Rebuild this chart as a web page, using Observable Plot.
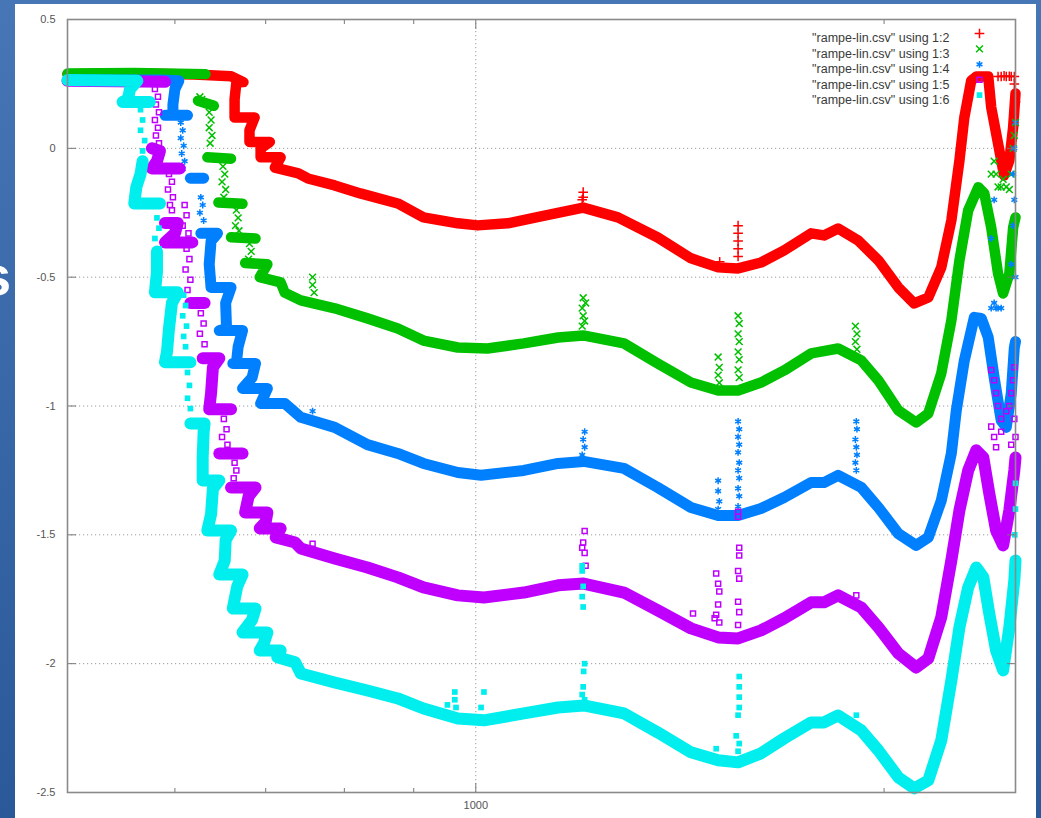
<!DOCTYPE html>
<html><head><meta charset="utf-8">
<script src="https://cdn.jsdelivr.net/npm/d3@7"></script>
<script src="https://cdn.jsdelivr.net/npm/@observablehq/plot@0.6"></script>
<style>
html,body{margin:0;padding:0;width:1041px;height:818px;overflow:hidden;}
body{background:linear-gradient(#4676b6,#2a5898);position:relative;font-family:"Liberation Sans",Arial,sans-serif;}
#slidetext{position:absolute;left:-20px;top:243px;color:#fff;font:bold 56px "Liberation Sans",Arial,sans-serif;}
#panel{position:absolute;left:15px;top:4px;width:1021px;height:814px;background:#fff;}
#chart{position:absolute;left:0;top:0;}
</style></head><body>
<div id="slidetext">s</div>
<div id="panel"></div>
<div id="chart"></div>
<script>
// ---- tick values ----
const yTicks = [0.5, 0, -0.5, -1, -1.5, -2, -2.5];
const xMajorTicks = [1000];
const xMinorTicks = [600, 700, 800, 900, 2000];

// ---- legend labels ----
const seriesNames = [
  '"rampe-lin.csv" using 1:2',
  '"rampe-lin.csv" using 1:3',
  '"rampe-lin.csv" using 1:4',
  '"rampe-lin.csv" using 1:5',
  '"rampe-lin.csv" using 1:6'
];

// ---- dense bands (segments of [wavelength, value]) ----
const redBand = [[
  [500,0.288],[560,0.29],[620,0.287],[660,0.28],[674,0.257],[666,0.255],[664,0.19],[664,0.12],[687,0.12],
  [681,0.07],[681,0.025],[705,0.025],[694,0.0],[694,-0.035],[718,-0.035],[711,-0.075],[740,-0.097],[752,-0.117],
  [787,-0.144],[822,-0.175],[876,-0.214],[915,-0.268],[970,-0.291],[1003,-0.299],[1056,-0.291],[1117,-0.264],
  [1200,-0.23],[1273,-0.268],[1362,-0.346],[1441,-0.427],[1509,-0.462],[1561,-0.466],[1623,-0.443],[1688,-0.396],
  [1767,-0.33],[1806,-0.338],[1850,-0.311],[1914,-0.358],[1981,-0.435],[2049,-0.54],[2105,-0.602],[2156,-0.579],
  [2204,-0.462],[2242,-0.28],[2273,-0.047],[2292,0.12],[2319,0.263],[2340,0.279],[2387,0.279],[2399,0.159],
  [2427,0.019],[2452,-0.105],[2474,-0.047],[2490,0.081],[2500,0.213]
]];
const greenBand = [
  [[500,0.29],[560,0.292],[632,0.288]],
  [[624,0.185],[641,0.165]],
  [[634,-0.035],[660,-0.04]],
  [[646,-0.21],[673,-0.215]],
  [[660,-0.345],[688,-0.35]],
  [[676,-0.445],[702,-0.45],[693,-0.5],[718,-0.52],[723,-0.56],[743,-0.59],[787,-0.621],[832,-0.66],[876,-0.699],
   [915,-0.746],[970,-0.773],[1020,-0.777],[1085,-0.757],[1150,-0.734],[1200,-0.726],[1286,-0.757],[1362,-0.835],
   [1441,-0.909],[1509,-0.94],[1561,-0.94],[1623,-0.909],[1688,-0.862],[1767,-0.796],[1850,-0.777],[1924,-0.823],
   [1981,-0.901],[2049,-1.017],[2112,-1.064],[2156,-1.029],[2204,-0.873],[2242,-0.668],[2273,-0.435],[2307,-0.241],
   [2347,-0.151],[2371,-0.175],[2399,-0.307],[2427,-0.486],[2448,-0.563],[2474,-0.486],[2490,-0.307],[2500,-0.268]]
];
const blueBand = [
  [[500,0.265],[585,0.265],[604,0.262],[600,0.23],[598,0.17],[598,0.128],[590,0.128],[613,0.128]],
  [[616,-0.116],[630,-0.116]],
  [[627,-0.33],[645,-0.33],[638,-0.36],[636,-0.45],[638,-0.54],[660,-0.54],[654,-0.6],[655,-0.7],[647,-0.707],
   [673,-0.707],[668,-0.77],[666,-0.835],[662,-0.835],[688,-0.835],[684,-0.89],[673,-0.932],[702,-0.932],[694,-0.99],
   [723,-0.99],[743,-1.044],[787,-1.083],[832,-1.15],[876,-1.184],[915,-1.223],[970,-1.258],[1009,-1.269],
   [1085,-1.25],[1150,-1.223],[1201,-1.215],[1286,-1.242],[1362,-1.316],[1441,-1.394],[1509,-1.425],[1561,-1.425],
   [1623,-1.398],[1688,-1.355],[1767,-1.297],[1806,-1.297],[1850,-1.269],[1924,-1.316],[1981,-1.394],[2049,-1.495],
   [2112,-1.541],[2156,-1.51],[2204,-1.367],[2242,-1.184],[2261,-1.017],[2292,-0.823],[2331,-0.656],[2359,-0.66],
   [2387,-0.734],[2411,-0.889],[2440,-1.056],[2461,-1.083],[2482,-0.951],[2495,-0.773],[2500,-0.75]]
];
const purpleBand = [
  [[500,0.262],[590,0.258]],
  [[577,0.0],[585,-0.01],[582,-0.05],[577,-0.078],[605,-0.078]],
  [[590,-0.29],[603,-0.29],[600,-0.33],[590,-0.365],[618,-0.365]],
  [[616,-0.6],[631,-0.6]],
  [[629,-0.815],[647,-0.815],[640,-0.85],[638,-0.95],[636,-1.013],[660,-1.013]],
  [[647,-1.184],[673,-1.184]],
  [[660,-1.316],[688,-1.316],[680,-1.35],[676,-1.413],[702,-1.413],[700,-1.45],[693,-1.475],[718,-1.475],[712,-1.51],
   [736,-1.53],[743,-1.553],[787,-1.592],[832,-1.627],[876,-1.665],[915,-1.704],[970,-1.735],[1014,-1.743],
   [1085,-1.724],[1150,-1.696],[1201,-1.689],[1286,-1.724],[1362,-1.793],[1441,-1.863],[1509,-1.898],[1561,-1.902],
   [1623,-1.871],[1688,-1.824],[1767,-1.762],[1806,-1.762],[1850,-1.735],[1924,-1.782],[1981,-1.859],[2049,-1.96],
   [2112,-2.015],[2156,-1.98],[2204,-1.82],[2242,-1.599],[2273,-1.405],[2307,-1.25],[2339,-1.172],[2367,-1.2],
   [2391,-1.339],[2419,-1.483],[2448,-1.541],[2474,-1.405],[2495,-1.25],[2500,-1.2]]
];
const cyanBand = [
  [[500,0.265],[563,0.262],[556,0.23],[554,0.19],[549,0.18],[575,0.18]],
  [[568,-0.05],[566,-0.1],[562,-0.15],[560,-0.214],[585,-0.214]],
  [[582,-0.4],[582,-0.48],[580,-0.559],[603,-0.559],[597,-0.6],[594,-0.7],[592,-0.79],[590,-0.83],[616,-0.83]],
  [[616,-1.068],[631,-1.068],[630,-1.1],[629,-1.2],[629,-1.289],[647,-1.289],[640,-1.32],[638,-1.42],[634,-1.483],
   [660,-1.483],[654,-1.52],[653,-1.6],[647,-1.654],[673,-1.654],[667,-1.7],[662,-1.786],[688,-1.786],[684,-1.83],
   [673,-1.879],[702,-1.879],[698,-1.92],[693,-1.949],[718,-1.949],[714,-1.975],[736,-1.995],[743,-2.038],
   [787,-2.073],[832,-2.104],[876,-2.135],[915,-2.174],[970,-2.213],[1014,-2.22],[1085,-2.193],[1150,-2.17],
   [1201,-2.162],[1286,-2.193],[1362,-2.267],[1441,-2.344],[1509,-2.375],[1561,-2.383],[1623,-2.348],[1688,-2.29],
   [1767,-2.228],[1806,-2.228],[1850,-2.201],[1924,-2.259],[1981,-2.337],[2049,-2.441],[2105,-2.484],[2156,-2.453],
   [2204,-2.298],[2242,-2.065],[2273,-1.859],[2307,-1.704],[2339,-1.627],[2367,-1.665],[2391,-1.805],[2419,-1.949],
   [2448,-2.026],[2474,-1.859],[2495,-1.677],[2500,-1.6]]
];

// ---- sparse points ----
const redPoints = [
  [1198,-0.2],[1200,-0.19],[1200,-0.17],[1513,-0.44],
  [1561,-0.30],[1561,-0.33],[1561,-0.36],[1561,-0.39],[1561,-0.42],
  [2427,0.279],[2440,0.279],[2452,0.281],[2461,0.279],[2474,0.28],[2482,0.279],[2495,0.279],[2495,0.25],[2500,0.18]
];
const greenPoints = [
  [626,0.2],[628,0.19],[636,0.14],[638,0.11],[636,0.08],[639,0.05],[637,0.02],
  [651,-0.07],[653,-0.10],[650,-0.13],[654,-0.16],[652,-0.19],
  [666,-0.24],[668,-0.27],[665,-0.30],[669,-0.32],
  [681,-0.37],[683,-0.40],[680,-0.43],
  [758,-0.50],[758,-0.53],[760,-0.56],
  [1200,-0.58],[1205,-0.60],[1198,-0.62],[1200,-0.65],[1203,-0.67],[1198,-0.69],
  [1509,-0.81],[1512,-0.85],[1509,-0.88],[1512,-0.91],
  [1561,-0.65],[1564,-0.68],[1561,-0.72],[1564,-0.75],[1561,-0.79],[1564,-0.82],[1561,-0.86],[1564,-0.89],
  [1905,-0.69],[1910,-0.72],[1905,-0.75],[1910,-0.78],
  [2399,-0.1],[2411,-0.05],[2419,-0.1],[2427,-0.15],[2440,-0.15],[2448,-0.12],[2461,-0.15],[2474,-0.16],
  [2482,-0.1],[2490,0.0],[2495,0.05],[2500,0.1]
];
const bluePoints = [
  [606,0.10],[608,0.07],[606,0.04],[609,0.01],[607,-0.02],[610,-0.05],[608,-0.08],
  [627,-0.19],[629,-0.22],[626,-0.25],[630,-0.28],
  [758,-1.02],
  [1203,-1.10],[1200,-1.13],[1203,-1.16],[1198,-1.19],
  [1509,-1.29],[1509,-1.33],[1512,-1.37],[1509,-1.40],
  [1561,-1.06],[1564,-1.09],[1561,-1.12],[1564,-1.15],[1561,-1.18],[1564,-1.22],[1561,-1.25],[1564,-1.28],
  [1561,-1.32],[1564,-1.35],[1561,-1.39],
  [1908,-1.06],[1910,-1.09],[1905,-1.13],[1908,-1.16],[1910,-1.19],[1905,-1.22],[1908,-1.25],
  [2399,-0.62],[2411,-0.60],[2419,-0.62],[2427,-0.62],[2440,-0.62],
  [2399,-0.35],[2411,-0.2],[2482,-0.45],[2490,-0.3],[2495,0.0],[2500,0.1],[2490,-0.1],[2500,-0.5],[2495,-0.2]
];
const purplePoints = [
  [580,0.23],[583,0.2],[581,0.17],[584,0.14],[580,0.11],[583,0.08],[581,0.05],[584,0.02],
  [594,-0.10],[597,-0.13],[593,-0.16],[598,-0.19],[595,-0.22],[597,-0.24],
  [610,-0.22],[612,-0.26],[608,-0.3],[614,-0.33],
  [612,-0.39],[615,-0.43],[611,-0.47],[616,-0.51],[613,-0.55],
  [627,-0.64],[630,-0.68],[626,-0.72],[631,-0.76],
  [652,-1.05],[655,-1.09],[650,-1.12],[656,-1.15],
  [664,-1.22],[666,-1.25],[663,-1.28],
  [758,-1.535],
  [1203,-1.485],[1200,-1.53],[1198,-1.55],[1203,-1.57],[1205,-1.62],
  [1446,-1.805],[1500,-1.824],
  [1504,-1.65],[1509,-1.69],[1512,-1.72],[1509,-1.77],[1504,-1.81],[1512,-1.84],
  [1561,-1.41],[1561,-1.43],[1564,-1.55],[1564,-1.58],[1561,-1.64],[1564,-1.67],[1561,-1.76],[1564,-1.80],[1561,-1.85],
  [1908,-1.735],
  [2399,-1.08],[2411,-1.12],[2419,-1.16],[2440,-1.1],[2482,-1.15],[2495,-1.05],[2500,-1.12],
  [2399,-0.86],[2411,-0.9],[2419,-0.95],[2427,-1.0],[2440,-1.05],[2461,-1.02],[2474,-1.0],[2482,-0.95],[2490,-0.9],[2495,-0.85]
];
const cyanPoints = [
  [566,0.15],[568,0.11],[566,0.07],[570,0.03],[568,-0.01],
  [582,-0.27],[584,-0.31],[580,-0.35],[584,-0.39],[582,-0.43],
  [609,-0.57],[611,-0.61],[608,-0.65],[612,-0.69],[609,-0.73],[611,-0.77],
  [613,-0.87],[615,-0.92],[613,-0.97],[616,-1.01],
  [953,-2.16],[965,-2.11],[965,-2.14],[967,-2.17],[1014,-2.11],[1009,-2.17],
  [1203,-2.0],[1201,-2.03],[1200,-2.09],[1198,-2.12],[1203,-2.14],
  [1198,-1.62],[1198,-1.64],[1200,-1.7],[1198,-1.74],[1200,-1.78],
  [1564,-2.05],[1564,-2.09],[1564,-2.13],[1564,-2.17],[1561,-2.2],[1556,-2.28],[1564,-2.31],[1561,-2.34],
  [1504,-2.33],[1908,-2.2],
  [2500,-1.3],[2500,-1.4],[2497,-1.5]
];

// ---- styles ----
const colors = ["#ff0000", "#00c000", "#0080ff", "#c000ff", "#00eeee"];
const symbols = ["plus", "times", "asterisk", "square2", "square"];
const bandWidths = [10.5, 10.5, 11, 12, 12];
const bands = [redBand, greenBand, blueBand, purpleBand, cyanBand];
const points = [redPoints, greenPoints, bluePoints, purplePoints, cyanPoints];

const dotStyle = (s) => {
  const filled = symbols[s] === "square";
  return {symbol: symbols[s], r: 3.2,
    fill: filled ? colors[s] : "none", stroke: filled ? "none" : colors[s], strokeWidth: 1.5};
};

const marks = [
  Plot.gridY(yTicks, {stroke: "#9a9a9a", strokeOpacity: 1, strokeDasharray: "1.2,2.8"}),
  Plot.gridX(xMajorTicks, {stroke: "#9a9a9a", strokeOpacity: 1, strokeDasharray: "1.2,2.8"})
];

bands.forEach((segs, s) => {
  const rows = [];
  segs.forEach((seg, k) => seg.forEach(([x, y]) => rows.push({x, y, k})));
  marks.push(Plot.line(rows, {x: "x", y: "y", z: "k", stroke: colors[s], strokeWidth: bandWidths[s],
    strokeLinecap: "round", strokeLinejoin: "round"}));
  const pts = points[s].map(([x, y]) => ({x, y}));
  marks.push(Plot.dot(pts, {x: "x", y: "y", ...dotStyle(s)}));
});

// axes
const axisColor = "#777";
marks.push(
  Plot.axisY(yTicks, {anchor: "left", label: null, tickSize: 0, tickPadding: 12, tickFormat: d => String(d), fontSize: 11, color: "#555"}),
  Plot.axisY(yTicks, {anchor: "left", label: null, tickSize: -9, tickFormat: () => "", stroke: axisColor}),
  Plot.axisY(yTicks, {anchor: "right", label: null, tickSize: -9, tickFormat: () => "", stroke: axisColor}),
  Plot.axisX(xMajorTicks, {anchor: "bottom", label: null, tickSize: 0, tickPadding: 9, tickFormat: d => String(d), fontSize: 11, color: "#555"}),
  Plot.axisX(xMajorTicks, {anchor: "bottom", label: null, tickSize: -9, tickFormat: () => "", stroke: axisColor}),
  Plot.axisX(xMajorTicks, {anchor: "top", label: null, tickSize: -9, tickFormat: () => "", stroke: axisColor}),
  Plot.axisX(xMinorTicks, {anchor: "bottom", label: null, tickSize: -4, tickFormat: () => "", stroke: axisColor}),
  Plot.axisX(xMinorTicks, {anchor: "top", label: null, tickSize: -4, tickFormat: () => "", stroke: axisColor}),
  Plot.frame({stroke: "#8a8a8a", strokeWidth: 1.6})
);

// legend inside the frame, top-right
seriesNames.forEach((name, i) => {
  marks.push(Plot.text([name], {text: d => d, frameAnchor: "top-right", dx: -66, dy: 14 + i * 15.4,
    textAnchor: "end", fontSize: 12.5, fill: "#3a3a3a"}));
  marks.push(Plot.dot([name], {frameAnchor: "top-right", dx: -36, dy: 14 + i * 15.4, ...dotStyle(i)}));
});

const chart = Plot.plot({
  width: 1041,
  height: 818,
  marginLeft: 67,
  marginRight: 26,
  marginTop: 19,
  marginBottom: 26,
  style: {background: "transparent", fontFamily: "'Liberation Sans', Arial, sans-serif", overflow: "visible"},
  x: {type: "log", domain: [500, 2500], label: null},
  y: {domain: [-2.5, 0.5], label: null},
  marks
});
document.getElementById("chart").appendChild(chart);
</script>
</body></html>
